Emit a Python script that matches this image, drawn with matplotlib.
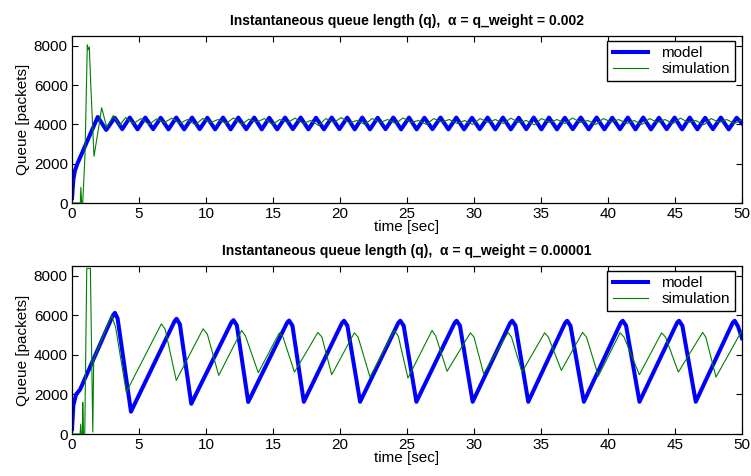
import numpy as np
import matplotlib
matplotlib.use("Agg")
import matplotlib.pyplot as plt

# ============= DATA =============
# top panel, alpha = 0.002 : model (blue)
model_top_t = [0.0, 0.1, 0.22, 0.4, 1.92,
               2.55, 3.19, 3.75, 4.31, 4.89, 5.47, 6.05, 6.62, 7.20, 7.78,
               8.37, 8.96, 9.53, 10.10, 10.68, 11.27, 11.84, 12.41, 13.00, 13.60,
               14.16, 14.72, 15.31, 15.90, 16.48, 17.07, 17.64, 18.21, 18.80, 19.38,
               19.96, 20.54, 21.10, 21.66, 22.24, 22.81, 23.40, 23.98, 24.56, 25.15,
               25.72, 26.30, 26.90, 27.50, 28.09, 28.68, 29.26, 29.85, 30.43, 31.02,
               31.59, 32.16, 32.75, 33.34, 33.90, 34.46, 35.03, 35.60, 36.19, 36.78,
               37.37, 37.97, 38.56, 39.15, 39.73, 40.32, 40.90, 41.48, 42.05, 42.63,
               43.21, 43.80, 44.38, 44.97, 45.53, 46.10, 46.67, 47.25, 47.83, 48.42,
               49.01, 49.60, 50.0]
model_top_q = [250, 1200, 1650, 2000, 4380,
               3720, 4340, 3760, 4350, 3750, 4350, 3760, 4340, 3750, 4350,
               3750, 4350, 3760, 4340, 3750, 4350, 3750, 4350, 3760, 4350,
               3750, 4340, 3750, 4350, 3760, 4350, 3750, 4340, 3750, 4350,
               3760, 4350, 3750, 4350, 3750, 4340, 3760, 4350, 3750, 4350,
               3750, 4340, 3760, 4350, 3750, 4350, 3750, 4340, 3760, 4350,
               3750, 4350, 3750, 4340, 3760, 4350, 3750, 4350, 3750, 4340,
               3760, 4350, 3750, 4350, 3750, 4340, 3760, 4350, 3750, 4350,
               3750, 4340, 3760, 4350, 3750, 4350, 3750, 4340, 3760, 4350,
               3750, 4340, 4050]

# top panel : simulation (green)
sim_top_t = [0.0, 0.62, 0.66, 0.72, 0.8, 0.97, 1.14, 1.2, 1.29, 1.4, 1.64,
             2.0, 2.21, 2.59, 3.08, 3.55, 4.0, 4.6, 5.15, 5.75, 6.3, 6.9, 7.45,
             8.05, 8.6, 9.2, 9.75, 10.35, 10.9, 11.5, 12.05, 12.65, 13.2, 13.8,
             14.35, 14.95, 15.5, 16.1, 16.65, 17.25, 17.8, 18.4, 18.95, 19.55,
             20.1, 20.7, 21.25, 21.85, 22.4, 23.0, 23.55, 24.15, 24.7, 25.3,
             25.85, 26.45, 27.0, 27.6, 28.15, 28.75, 29.3, 29.9, 30.45, 31.05,
             31.6, 32.2, 32.75, 33.35, 33.9, 34.5, 35.05, 35.65, 36.2, 36.8,
             37.35, 37.95, 38.5, 39.1, 39.65, 40.25, 40.8, 41.4, 41.95, 42.55,
             43.1, 43.7, 44.25, 44.85, 45.4, 46.0, 46.55, 47.15, 47.7, 48.3,
             48.85, 49.45, 50.0]
sim_top_q = [0, 0, 800, 0, 0, 2500, 8050, 7800, 7950, 6000, 2380,
             3900, 4850, 3860, 4450, 3950, 4350, 4050, 4300, 4000, 4280, 4100, 4320,
             4050, 4250, 3980, 4300, 4100, 4250, 4050, 4330, 4000, 4270, 4120,
             4300, 4000, 4250, 4100, 4320, 4050, 4200, 3950, 4300, 4100,
             4350, 4080, 4200, 4000, 4300, 4100, 4250, 4050, 4330, 4100,
             4200, 4000, 4300, 4120, 4250, 4050, 4200, 4000, 4300, 4100,
             4250, 4050, 4320, 4100, 4200, 3980, 4300, 4100, 4250, 4050,
             4330, 4100, 4200, 4000, 4300, 4120, 4250, 4050, 4200, 4000,
             4300, 4100, 4250, 4050, 4320, 4100, 4200, 3980, 4300, 4100,
             4250, 4050, 4250]

# bottom panel, alpha = 0.00001 : model (blue)
model_bot_t = [0.0, 0.1, 0.3, 0.6, 3.05, 3.2, 3.4, 4.4,
               7.65, 7.8, 8.05, 8.9, 11.9, 12.05, 12.3, 13.15,
               16.05, 16.2, 16.45, 17.3, 20.15, 20.3, 20.55, 21.5,
               24.35, 24.5, 24.75, 25.7, 28.55, 28.7, 28.95, 29.9,
               32.7, 32.85, 33.1, 34.05, 36.8, 36.95, 37.2, 38.2,
               40.95, 41.1, 41.35, 42.35, 45.15, 45.3, 45.55, 46.55,
               49.3, 49.45, 49.7, 50.0]
model_bot_q = [250, 1450, 2000, 2250, 6000, 6130, 5850, 1130,
               5700, 5830, 5550, 1530, 5650, 5760, 5500, 1620,
               5630, 5740, 5480, 1630, 5620, 5730, 5480, 1630,
               5620, 5730, 5480, 1630, 5620, 5730, 5480, 1630,
               5620, 5730, 5480, 1630, 5620, 5730, 5480, 1630,
               5620, 5730, 5480, 1630, 5620, 5730, 5480, 1630,
               5620, 5730, 5450, 4850]

# bottom panel : simulation (green)
sim_bot_t = [0.0, 0.6, 0.65, 0.7, 0.78, 0.8, 0.85, 0.95, 1.1, 1.37, 1.55,
             1.62, 2.95, 3.25, 4.05, 6.67, 6.95, 7.78, 9.78, 10.1, 10.95,
             12.66, 12.95, 13.9, 15.47, 15.75, 16.6, 18.35, 18.65, 19.38,
             21.07, 21.35, 22.24, 24.05, 24.35, 25.07, 26.87, 27.15, 27.99,
             29.73, 30.0, 30.72, 32.54, 32.8, 33.58, 35.27, 35.55, 36.52,
             38.1, 38.4, 39.28, 40.9, 41.2, 42.34, 44.0, 44.3, 45.25,
             47.06, 47.3, 48.06, 50.0]
sim_bot_q = [0, 0, 500, 0, 0, 1600, 0, 0, 8380, 8380, 100,
             3800, 6000, 5400, 2120, 5575, 5300, 2710, 5320, 5050, 2965,
             5240, 4950, 3100, 5120, 4900, 3130, 5140, 4900, 3000,
             5120, 4900, 2880, 5240, 4950, 2830, 5240, 4950, 3170,
             5120, 4900, 3050, 5140, 4900, 3130, 5120, 4900, 3220,
             5140, 4900, 2930, 5120, 4900, 3000, 5120, 4900, 3130,
             5140, 4900, 2880, 5240]

titles = ["Instantaneous queue length (q),  \u03b1 = q_weight = 0.002",
          "Instantaneous queue length (q),  \u03b1 = q_weight = 0.00001"]
yticks = [0, 2000, 4000, 6000, 8000]
xticks = [0, 5, 10, 15, 20, 25, 30, 35, 40, 45, 50]

# ============= PLOT =============
plt.rcParams['font.family'] = ['Liberation Sans', 'DejaVu Sans']
plt.rcParams['font.size'] = 11

fig = plt.figure(figsize=(7.51, 4.76), dpi=100)
ax1 = fig.add_axes([0.0959, 0.5735, 0.8921, 0.3508])
ax2 = fig.add_axes([0.0959, 0.0882, 0.8921, 0.3530])

panels = [(ax1, model_top_t, model_top_q, sim_top_t, sim_top_q, 0),
          (ax2, model_bot_t, model_bot_q, sim_bot_t, sim_bot_q, 1)]

for ax, mt, mq, st, sq, k in panels:
    ax.plot(mt, mq, color=(0, 0, 1), lw=2.9, label="model",
            solid_joinstyle="round", zorder=2)
    ax.plot(st, sq, color=(0, 0.5, 0), lw=0.8, label="simulation", zorder=3)
    ax.set_xlim(0, 50)
    ax.set_ylim(0, 8500)
    ax.set_xticks(xticks)
    ax.set_yticks(yticks)
    ax.tick_params(direction="in", top=True, right=True, length=4,
                   width=0.8, labelsize=11, pad=3)
    for s in ax.spines.values():
        s.set_linewidth(0.9)
    ax.set_title(titles[k], fontsize=10, fontweight="bold", pad=8)
    ax.set_xlabel("time [sec]", fontsize=11, labelpad=-1)
    ax.set_ylabel("Queue [packets]", fontsize=11, labelpad=3)
    leg = ax.legend(loc="upper right", bbox_to_anchor=(0.99, 0.97),
                    fancybox=False, framealpha=1, edgecolor="black",
                    borderaxespad=0, handlelength=2.3, fontsize=11,
                    borderpad=0.35, labelspacing=0.1, handletextpad=0.9)
    leg.get_frame().set_linewidth(1.0)

fig.savefig("out.png", dpi=100)
